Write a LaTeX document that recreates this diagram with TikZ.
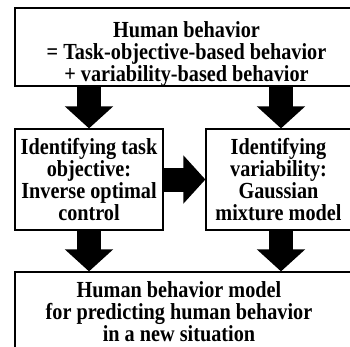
\documentclass[tikz,border=0pt]{standalone}
\usepackage{fontspec}
\setmainfont{Liberation Serif}
\newfontfamily\tallfont[FakeStretch=0.88]{Liberation Serif}
\usetikzlibrary{arrows.meta,positioning,calc}
\definecolor{ink}{HTML}{000000}
\tikzset{
  box/.style={draw=ink, fill=white, line width=1.2pt, align=center,
              font=\tallfont\bfseries\fontsize{23}{21.8}\selectfont, inner sep=0pt},
  txt/.style={align=center, font=\tallfont\bfseries\fontsize{23}{22}\selectfont, inner sep=0pt},
  bigarrow/.style={draw=ink, line width=24pt,
                   -{Triangle[width=47pt, length=22pt]}}
}
\begin{document}
\begin{tikzpicture}[x=1pt,y=-1pt]
  \useasboundingbox (0,0) rectangle (350,346);
  \clip (0,0) rectangle (350,346);
  % boxes
  \node[box, minimum width=343pt, minimum height=78pt] (humanbox) at (186.5,47) {};
  \node[txt] (humantext) at (186.5,54)
    {Human behavior\\= Task-objective-based behavior\\+ variability-based behavior};
  \node[box, minimum width=148pt, minimum height=101pt] (taskbox) at (89,179.5)
    {Identifying task\\objective:\\Inverse optimal\\control};
  \node[box, minimum width=145pt, minimum height=101pt] (varbox) at (278.5,179.5)
    {Identifying\\variability:\\Gaussian\\mixture model};
  \node[box, minimum width=343pt, minimum height=88pt] (modelbox) at (186.5,316) {};
  \node[txt] (modeltext) at (179,312)
    {Human behavior model\\for predicting human behavior\\in a new situation};
  % arrows
  \draw[bigarrow] (humanbox.south -| taskbox.north) -- (taskbox.north);
  \draw[bigarrow] ($(humanbox.south -| varbox.north)+(2.5,0)$) -- ($(varbox.north)+(2.5,0)$);
  \draw[bigarrow] (taskbox.east) -- (varbox.west);
  \draw[bigarrow] (taskbox.south) -- (taskbox.south |- modelbox.north);
  \draw[bigarrow] ($(varbox.south)+(2.5,0)$) -- ($(varbox.south |- modelbox.north)+(2.5,0)$);
\end{tikzpicture}
\end{document}
